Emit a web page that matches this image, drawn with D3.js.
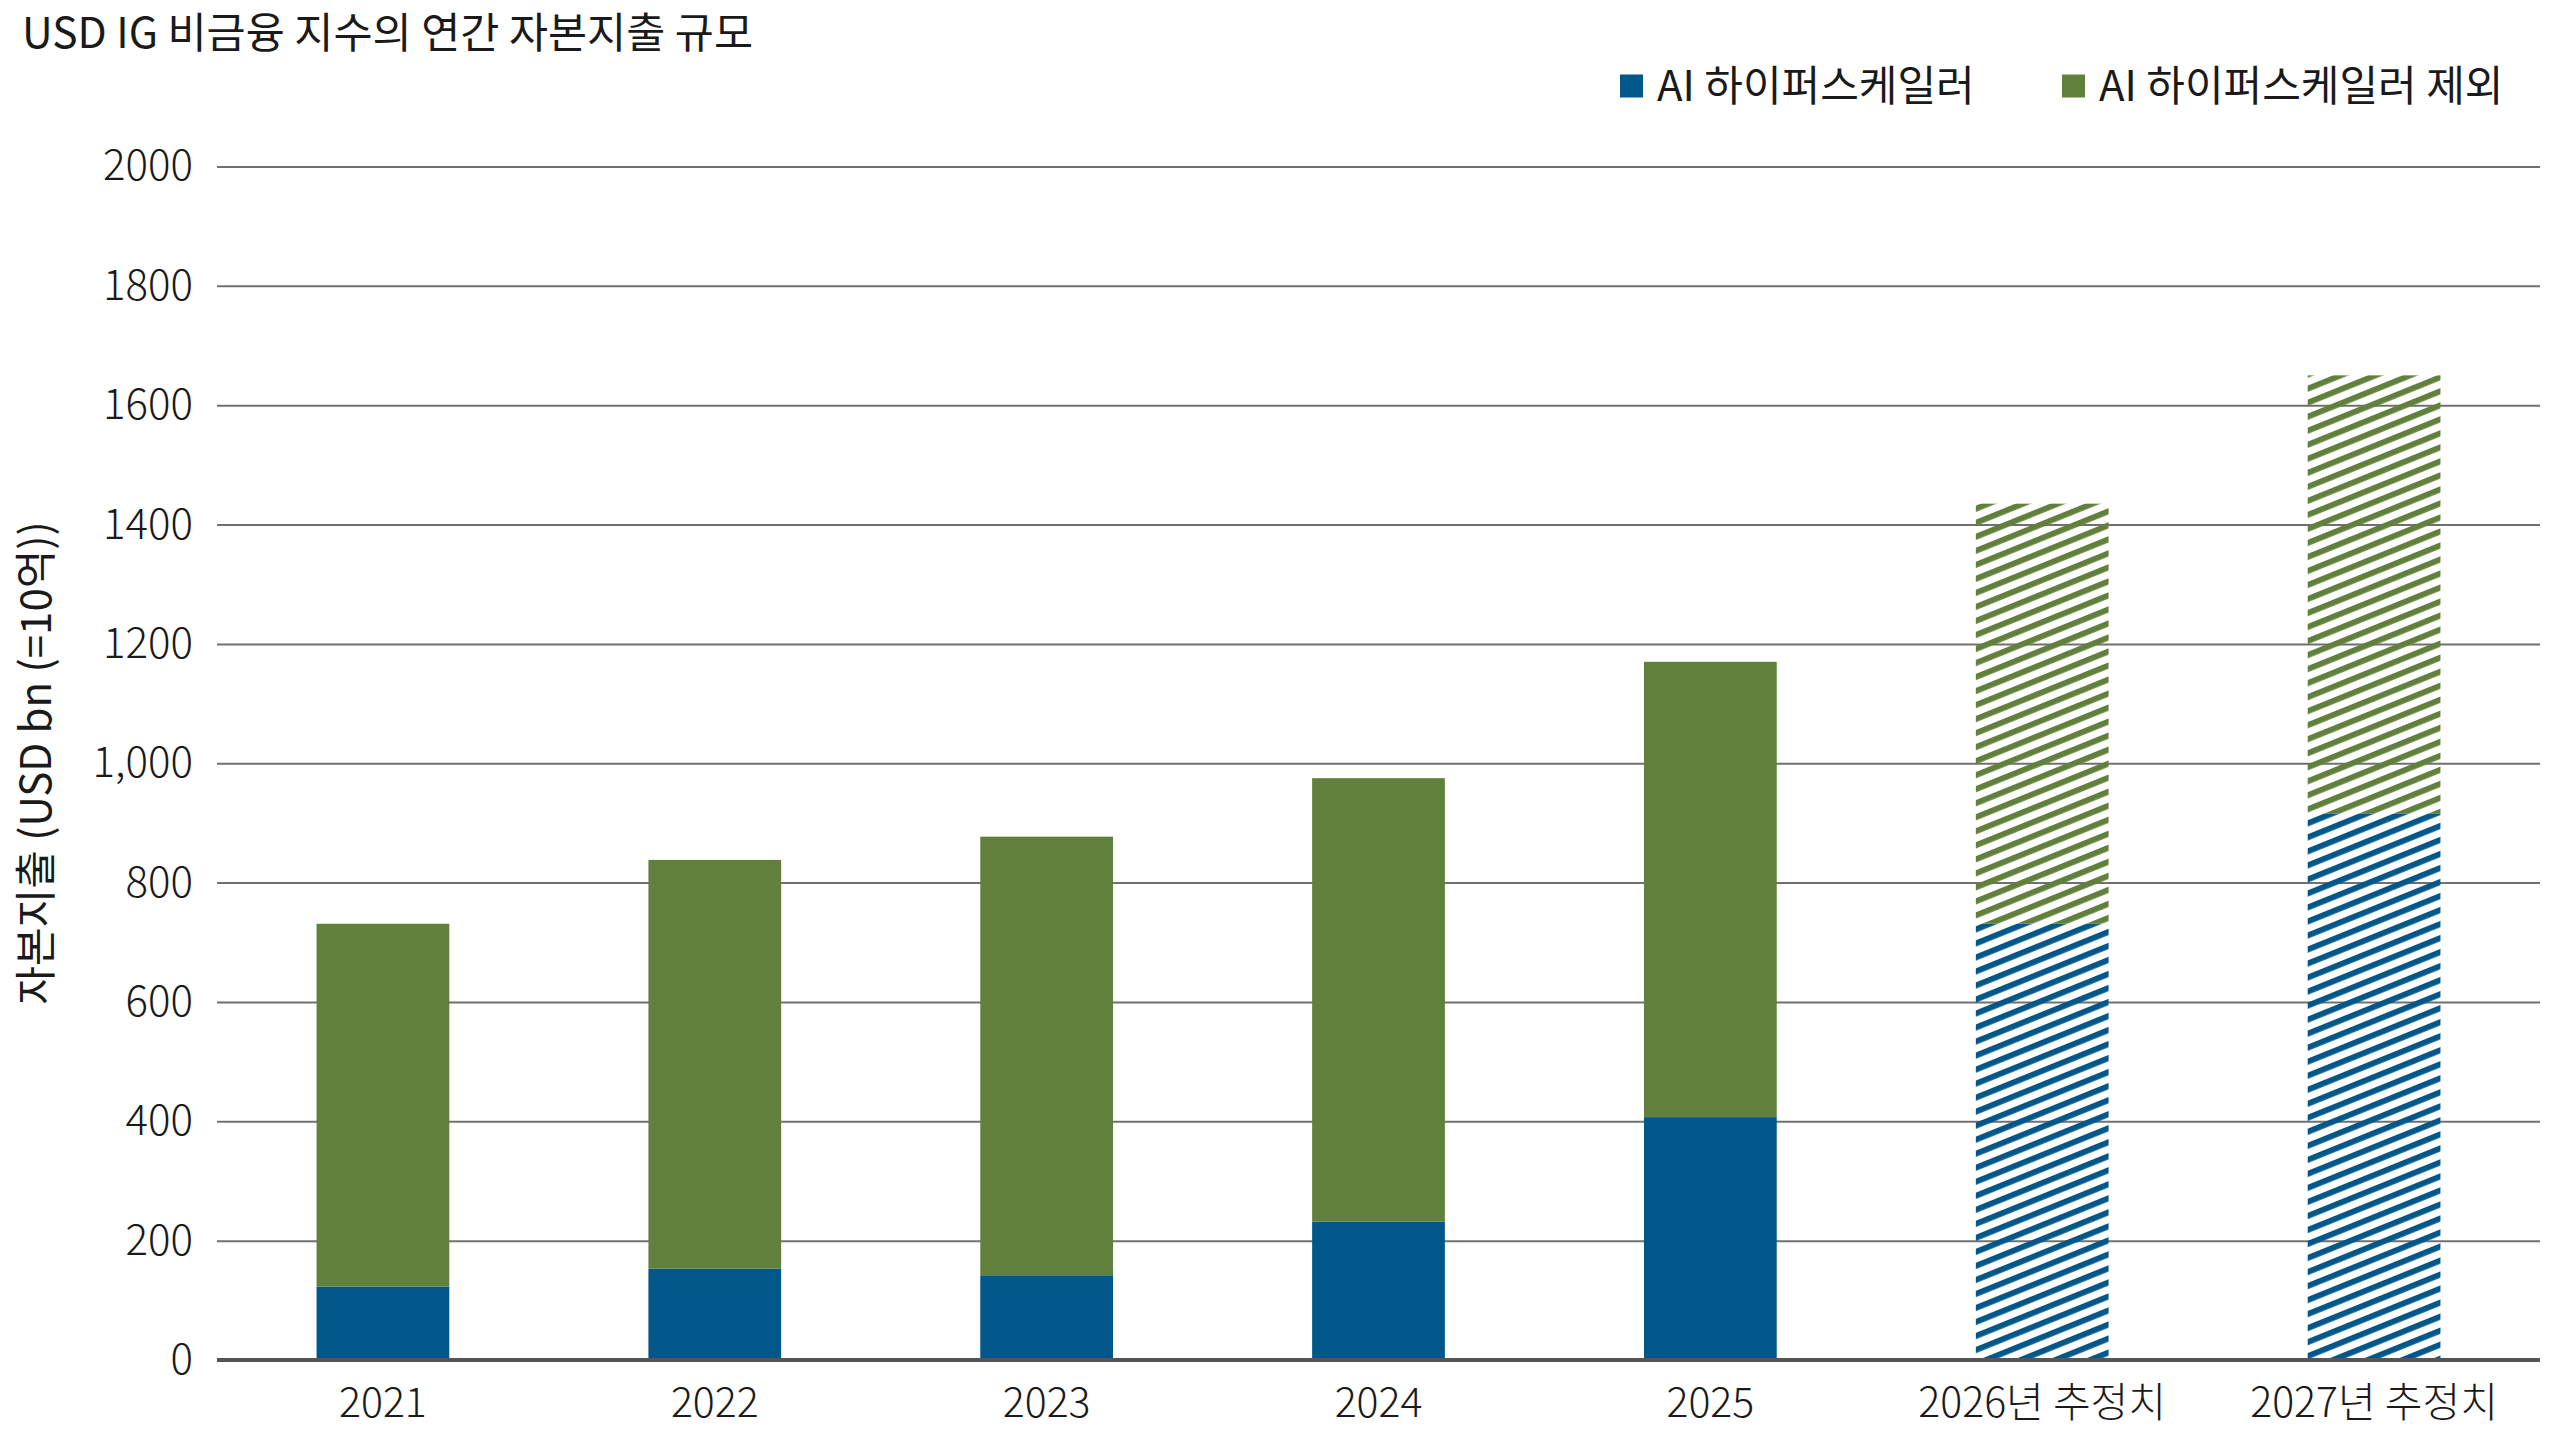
<!DOCTYPE html>
<html><head><meta charset="utf-8">
<script src="https://cdn.jsdelivr.net/npm/d3@7"></script>
<style>
html,body{margin:0;padding:0;background:#fff;}
text{font-family:"Noto Sans CJK KR","Noto Sans",sans-serif;}
</style></head>
<body>
<svg id="chart" width="2560" height="1440"></svg>
<script>
const categories = ["2021","2022","2023","2024","2025","2026년 추정치","2027년 추정치"];
const aiHyperscalers = [123, 153, 142, 232, 407, 731, 916];
const exHyperscalers = [608, 685, 735, 743, 763, 704, 734];
const estimated = [false, false, false, false, false, true, true];
const yTicks = [0,200,400,600,800,1000,1200,1400,1600,1800,2000];
const yTickLabels = ["0","200","400","600","800","1,000","1200","1400","1600","1800","2000"];
const seriesNames = ["AI 하이퍼스케일러","AI 하이퍼스케일러 제외"];
const colors = ["#02578A","#61803B"];
const titleText = "USD IG 비금융 지수의 연간 자본지출 규모";
const yTitle = "자본지출 (USD bn (=10억))";

const svg = d3.select("#chart");
const margin = {left:217, right:20};
const W = 2560, H = 1440;
const x0 = margin.left, x1 = W - margin.right;
const yBase = 1360, yTop = 166.5;

const x = d3.scaleBand().domain(categories).range([x0, x1]).paddingInner(0.6).paddingOuter(0.3);
const y = d3.scaleLinear().domain([0,2000]).range([yBase, yTop]);

// patterns
const defs = svg.append("defs");
colors.forEach((c,i)=>{
  const p = defs.append("pattern").attr("id","hatch"+i)
    .attr("patternUnits","userSpaceOnUse").attr("width",20).attr("height",13)
    .attr("patternTransform","rotate(-22)");
  p.append("rect").attr("x",0).attr("y",0).attr("width",20).attr("height",5.8).attr("fill",c);
});

// gridlines
const grid = svg.append("g").attr("transform",`translate(${x0},0)`)
  .call(d3.axisLeft(y).tickValues(yTicks.filter(d=>d>0)).tickSize(-(x1-x0)).tickFormat(""));
grid.select(".domain").remove();
grid.selectAll("line").attr("stroke","#707070").attr("stroke-width",2);

// y tick labels
const yAxis = svg.append("g").attr("transform",`translate(${x0},0)`)
  .call(d3.axisLeft(y).tickValues(yTicks).tickSize(0).tickPadding(24)
    .tickFormat((d)=>yTickLabels[yTicks.indexOf(d)]));
yAxis.select(".domain").remove();
yAxis.selectAll("text").attr("font-size",42).attr("fill","#1a1a1a").attr("font-weight",300)
  .attr("font-family",'"Noto Sans CJK KR",sans-serif');

// stacked bars
const stackData = categories.map((c,i)=>({cat:c, ai:aiHyperscalers[i], ex:exHyperscalers[i], est:estimated[i]}));
const stack = d3.stack().keys(["ai","ex"])(stackData);
stack.forEach((layer,li)=>{
  svg.append("g").selectAll("rect").data(layer).join("rect")
    .attr("x",d=>x(d.data.cat)).attr("width",x.bandwidth())
    .attr("y",d=>y(d[1])).attr("height",d=>y(d[0])-y(d[1]))
    .attr("fill",d=>d.data.est ? `url(#hatch${li})` : colors[li]);
});

// baseline
svg.append("line").attr("x1",x0).attr("x2",x1).attr("y1",y(0)).attr("y2",y(0))
  .attr("stroke","#555").attr("stroke-width",4);

// x labels
const xAxis = svg.append("g").attr("transform",`translate(0,${yBase})`)
  .call(d3.axisBottom(x).tickSize(0).tickPadding(28));
xAxis.select(".domain").remove();
xAxis.selectAll("text").attr("font-size",41).attr("fill","#1a1a1a").attr("font-weight",300)
  .attr("font-family",'"Noto Sans CJK KR",sans-serif');

// title
svg.append("text").attr("x",22).attr("y",48).attr("font-size",42.5).attr("fill","#1a1a1a")
  .attr("font-weight",400).text(titleText);

// y title
svg.append("text").attr("transform",`translate(51,${(522+1004)/2}) rotate(-90)`)
  .attr("text-anchor","middle").attr("font-size",42).attr("fill","#1a1a1a").attr("font-weight",400)
  .text(yTitle);

// legend
const legendX = [1620, 2062];
seriesNames.forEach((n,i)=>{
  const g = svg.append("g").attr("transform",`translate(${legendX[i]},86)`);
  g.append("rect").attr("x",0).attr("y",-11.5).attr("width",23).attr("height",23).attr("fill",colors[i]);
  g.append("text").attr("x",37).attr("y",0).attr("dy","0.35em").attr("font-size",42)
    .attr("fill","#1a1a1a").attr("font-weight",400).text(n);
});
</script>
</body></html>
